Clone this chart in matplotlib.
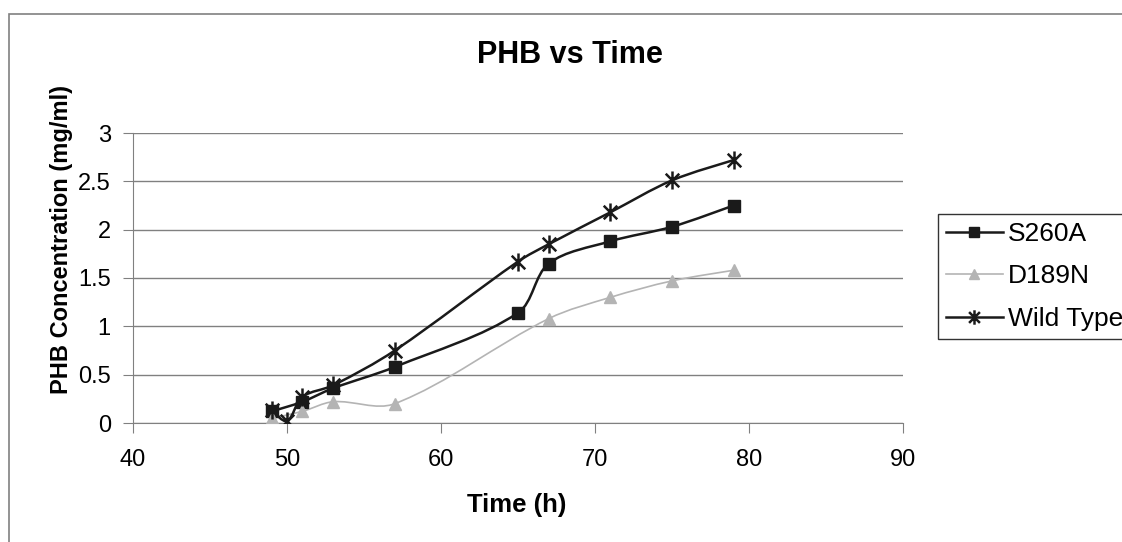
import matplotlib
matplotlib.use('Agg')
import matplotlib.pyplot as plt
import numpy as np
from matplotlib.path import Path
from matplotlib.patches import PathPatch, Rectangle
from matplotlib.lines import Line2D

plt.rcParams['font.family'] = ['Liberation Sans', 'DejaVu Sans']

# data
time_s260a = [49, 51, 53, 57, 65, 67, 71, 75, 79]
phb_s260a = [0.12, 0.22, 0.36, 0.58, 1.14, 1.65, 1.88, 2.03, 2.25]

time_d189n = [49, 51, 53, 57, 67, 71, 75, 79]
phb_d189n = [0.05, 0.12, 0.22, 0.2, 1.08, 1.3, 1.47, 1.58]

time_wt = [49, 50, 51, 53, 57, 65, 67, 71, 75, 79]
phb_wt = [0.13, 0.02, 0.27, 0.39, 0.75, 1.67, 1.85, 2.18, 2.51, 2.72]

series_names = ['S260A', 'D189N', 'Wild Type']
x_ticks = [40, 50, 60, 70, 80, 90]
y_ticks = [0, 0.5, 1, 1.5, 2, 2.5, 3]

AX_W, AX_H = 770, 290  # axes size in px, used to weight the smoothing


def smooth_path(xs, ys):
    # excel-like smoothed line: cubic bezier, tangents weighted by segment length
    p = np.column_stack([xs, ys]).astype(float)
    scale = np.array([AX_W / 50, AX_H / 3])
    n = len(p)
    tang = []
    for i in range(n):
        a = p[max(i - 1, 0)]
        b = p[min(i + 1, n - 1)]
        tang.append(b - a)
    seg = [np.hypot(*((p[i + 1] - p[i]) * scale)) for i in range(n - 1)]
    verts = [p[0]]
    codes = [Path.MOVETO]
    for i in range(n - 1):
        d_prev = seg[i - 1] if i > 0 else seg[i]
        d_next = seg[i + 1] if i + 1 < n - 1 else seg[i]
        k1 = seg[i] / (d_prev + seg[i]) / 3 if i > 0 else 1 / 6
        k2 = seg[i] / (seg[i] + d_next) / 3 if i + 1 < n - 1 else 1 / 6
        verts += [p[i] + tang[i] * k1, p[i + 1] - tang[i + 1] * k2, p[i + 1]]
        codes += [Path.CURVE4] * 3
    return Path(verts, codes)


star = Path([(0, -1), (0, 1), (-0.75, -0.75), (0.75, 0.75), (-0.75, 0.75), (0.75, -0.75)],
            [Path.MOVETO, Path.LINETO] * 3)

styles = [
    dict(color='#1a1a1a', marker='s', ms=9, mew=1, mfc='#1a1a1a', lw=1.8),
    dict(color='#b4b4b4', marker='^', ms=9, mew=1, mfc='#b4b4b4', lw=1.2),
    dict(color='#1a1a1a', marker=star, ms=13, mew=1.8, mfc='none', lw=1.8),
]
data = [(time_s260a, phb_s260a), (time_d189n, phb_d189n), (time_wt, phb_wt)]

fig = plt.figure(figsize=(11.22, 5.42), dpi=100)
ax = fig.add_axes([133 / 1122, 1 - 423 / 542, AX_W / 1122, AX_H / 542])

handles = []
for (xs, ys), st, name in zip(data, styles, series_names):
    ax.add_patch(PathPatch(smooth_path(xs, ys), fill=False, edgecolor=st['color'],
                           lw=st['lw'], zorder=3))
    ax.plot(xs, ys, linestyle='none', marker=st['marker'], ms=st['ms'],
            mec=st['color'], mfc=st['mfc'], mew=st['mew'], zorder=4)
    handles.append(Line2D([], [], color=st['color'], lw=st['lw'], marker=st['marker'],
                          ms=st['ms'] * 0.8, mec=st['color'], mfc=st['mfc'], mew=st['mew']))

ax.set_xlim(40, 90)
ax.set_ylim(0, 3)
ax.set_xticks(x_ticks)
ax.set_yticks(y_ticks)
ax.set_yticklabels(['0', '0.5', '1', '1.5', '2', '2.5', '3'])
ax.grid(axis='y', color='#808080', lw=1)
ax.set_axisbelow(True)
for s in ['top', 'right']:
    ax.spines[s].set_visible(False)
for s in ['left', 'bottom']:
    ax.spines[s].set_color('#808080')
ax.tick_params(direction='out', length=7, color='#808080', labelsize=17)
ax.tick_params(axis='x', pad=12)
ax.tick_params(axis='y', pad=9)

ax.set_xlabel('Time (h)', fontsize=18.5, fontweight='bold')
ax.xaxis.set_label_coords((517 - 133) / AX_W, -(505 - 423) / AX_H)
ax.set_ylabel('PHB Concentration (mg/ml)', fontsize=17, fontweight='bold')
ax.yaxis.set_label_coords((62 - 133) / AX_W, (423 - 240) / AX_H)
ax.yaxis.label.set_va('center')
ax.xaxis.label.set_va('center')
fig.text(570 / 1122, 1 - 55 / 542, 'PHB vs Time', ha='center', va='center',
         fontsize=22, fontweight='bold')

leg = fig.legend(handles, series_names, loc='upper left',
                 bbox_to_anchor=(938 / 1122, 1 - 214 / 542), fontsize=19,
                 frameon=True, fancybox=False, borderaxespad=0, handlelength=2.15,
                 handletextpad=0.2, labelspacing=0.7, borderpad=0.3)
leg.get_frame().set_edgecolor('black')
leg.get_frame().set_linewidth(1)

# outer chart frame
fig.patches.append(Rectangle((9 / 1122, -0.1), 1.2, 1 - 14 / 542 + 0.1,
                             transform=fig.transFigure, fill=False,
                             edgecolor='#808080', lw=1.2))

fig.savefig('out.png', dpi=100)
